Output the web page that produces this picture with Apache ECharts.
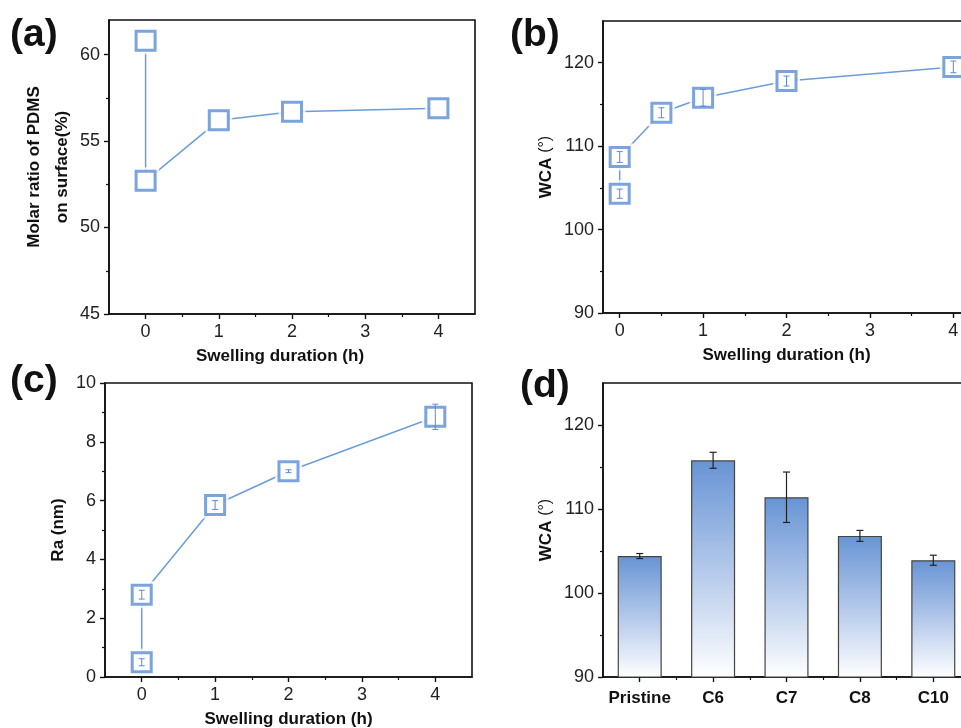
<!DOCTYPE html>
<html>
<head>
<meta charset="utf-8">
<script src="https://cdn.jsdelivr.net/npm/echarts@6/dist/echarts.min.js"></script>
<style>
  html, body { margin: 0; padding: 0; background: #fff; }
  #chart { width: 961px; height: 728px; }
</style>
</head>
<body>
<div id="chart"></div>
<script>
// (a) PDMS molar ratio on the surface vs. swelling time
const timeA = [0, 0, 1, 2, 4];
const pdmsRatio = [60.8, 52.7, 56.2, 56.7, 56.9];

// (b) water contact angle vs. swelling time
const timeB = [0, 0, 0.5, 1, 2, 4];
const wcaSwell = [104.3, 108.7, 114.0, 115.8, 117.8, 119.5];
const wcaSwellErr = [0.55, 0.65, 0.6, 1.0, 0.6, 0.7];

// (c) surface roughness vs. swelling time
const timeC = [0, 0, 1, 2, 4];
const roughness = [0.5, 2.8, 5.85, 7.0, 8.85];
const roughnessErr = [0.12, 0.15, 0.15, 0.05, 0.43];

// (d) water contact angle for each swelling solvent
const solvents = ['Pristine', 'C6', 'C7', 'C8', 'C10'];
const wcaSolvent = [104.4, 115.8, 111.4, 106.8, 103.9];
const wcaSolventErr = [0.3, 0.95, 3.0, 0.65, 0.6];

// tick positions
const hourTicks = [0, 1, 2, 3, 4];
const hourMinor = [0.5, 1.5, 2.5, 3.5];
const pdmsTicks = [45, 50, 55, 60];
const pdmsMinor = [47.5, 52.5, 57.5];
const wcaTicks = [90, 100, 110, 120];
const wcaMinor = [95, 105, 115];
const raTicks = [0, 2, 4, 6, 8, 10];
const raMinor = [1, 3, 5, 7, 9];
const solventMinor = [0.5, 1.5, 2.5, 3.5];

const FONT = '"Liberation Sans", Arial, sans-serif';
const BLUE = '#5a8cd6';
const LINE_BLUE = '#6b9cdc';
const AXIS = '#111';

function mainValueAxis(grid, pos, min, max, ticks, extra) {
  return Object.assign({
    type: 'value', gridIndex: grid, position: pos, min: min, max: max,
    axisLine: { show: true, onZero: false, lineStyle: { color: AXIS, width: 1.6 } },
    axisTick: { show: true, inside: false, length: 5, customValues: ticks,
                lineStyle: { color: AXIS, width: 1.4 } },
    axisLabel: { show: true, customValues: ticks, fontFamily: FONT, fontSize: 18,
                 color: '#222', margin: 9 },
    splitLine: { show: false }
  }, extra || {});
}

function minorAxis(grid, pos, min, max, ticks) {
  return {
    type: 'value', gridIndex: grid, position: pos, min: min, max: max,
    axisLine: { show: false, onZero: false },
    axisTick: { show: true, inside: false, length: 3, customValues: ticks,
                lineStyle: { color: AXIS, width: 1.2 } },
    axisLabel: { show: false },
    splitLine: { show: false }
  };
}

const hourName = {
  name: 'Swelling duration (h)', nameLocation: 'middle', nameGap: 34,
  nameTextStyle: { fontFamily: FONT, fontSize: 17, fontWeight: 'bold', color: '#111' }
};

function yName(name, gap, rich) {
  const o = {
    name: name, nameLocation: 'middle', nameGap: gap,
    nameTextStyle: { fontFamily: FONT, fontSize: 17, fontWeight: 'bold', color: '#111',
                     lineHeight: 28, align: 'center' }
  };
  if (rich) o.nameTextStyle.rich = rich;
  return o;
}

const wcaRich = {
  b: { fontFamily: FONT, fontSize: 17, fontWeight: 'bold', color: '#111' },
  r: { fontFamily: FONT, fontSize: 16, fontWeight: 'normal', color: '#111' }
};

const xAxes = [
  mainValueAxis(0, 'bottom', -0.5, 4.5, hourTicks, Object.assign({}, hourName,
    { nameTextStyle: Object.assign({}, hourName.nameTextStyle, { padding: [0, 24, 0, 0] }) })),
  minorAxis(0, 'bottom', -0.5, 4.5, hourMinor),
  mainValueAxis(1, 'bottom', -0.2, 4.2, hourTicks, hourName),
  minorAxis(1, 'bottom', -0.2, 4.2, hourMinor),
  mainValueAxis(2, 'bottom', -0.5, 4.5, hourTicks, hourName),
  minorAxis(2, 'bottom', -0.5, 4.5, hourMinor),
  {
    type: 'category', gridIndex: 3, position: 'bottom', data: solvents,
    axisLine: { show: true, onZero: false, lineStyle: { color: AXIS, width: 1.6 } },
    axisTick: { show: true, alignWithLabel: true, interval: 0, length: 5,
                lineStyle: { color: AXIS, width: 1.4 } },
    axisLabel: { interval: 0, fontFamily: FONT, fontSize: 17, fontWeight: 'bold',
                 color: '#111', margin: 13 },
    splitLine: { show: false }
  },
  minorAxis(3, 'bottom', -0.5, 4.5, solventMinor)
];

const yAxes = [
  mainValueAxis(0, 'left', 45, 62, pdmsTicks, yName('Molar ratio of PDMS\non surface(%)', 28)),
  minorAxis(0, 'left', 45, 62, pdmsMinor),
  mainValueAxis(1, 'left', 90, 125, wcaTicks, yName('{b|WCA} {r|(°)}', 40, wcaRich)),
  minorAxis(1, 'left', 90, 125, wcaMinor),
  mainValueAxis(2, 'left', 0, 10, raTicks, yName('Ra (nm)', 32)),
  minorAxis(2, 'left', 0, 10, raMinor),
  mainValueAxis(3, 'left', 90, 125, wcaTicks, yName('{b|WCA} {r|(°)}', 40, wcaRich)),
  minorAxis(3, 'left', 90, 125, wcaMinor)
];

function zip(xs, ys) { return xs.map((x, i) => [x, ys[i]]); }
function errData(xs, ys, es) { return xs.map((x, i) => [x, ys[i] - es[i], ys[i] + es[i]]); }

function errorBarSeries(axisIdx, data, color, capW, width, z) {
  return {
    type: 'custom', xAxisIndex: axisIdx, yAxisIndex: axisIdx, z: z, silent: true,
    data: data,
    renderItem: function (params, api) {
      const x = api.value(0);
      const lo = api.coord([x, api.value(1)]);
      const hi = api.coord([x, api.value(2)]);
      const w = capW / 2;
      const st = { stroke: color, lineWidth: width };
      return {
        type: 'group',
        children: [
          { type: 'line', shape: { x1: hi[0], y1: hi[1], x2: lo[0], y2: lo[1] }, style: st },
          { type: 'line', shape: { x1: hi[0] - w, y1: hi[1], x2: hi[0] + w, y2: hi[1] }, style: st },
          { type: 'line', shape: { x1: lo[0] - w, y1: lo[1], x2: lo[0] + w, y2: lo[1] }, style: st }
        ]
      };
    }
  };
}

function markerLineSeries(axisIdx, xs, ys, errs) {
  const pts = zip(xs, ys);
  const list = [
    { type: 'line', xAxisIndex: axisIdx, yAxisIndex: axisIdx, data: pts, z: 1,
      symbol: 'none', showSymbol: false, silent: true,
      lineStyle: { color: LINE_BLUE, width: 1.5 } },
    { type: 'scatter', xAxisIndex: axisIdx, yAxisIndex: axisIdx, data: pts, z: 2,
      symbol: 'rect', symbolSize: 27, silent: true,
      itemStyle: { color: '#fff' } },
    { type: 'scatter', xAxisIndex: axisIdx, yAxisIndex: axisIdx, data: pts, z: 3,
      symbol: 'rect', symbolSize: 19, silent: true,
      itemStyle: { color: '#fff', borderColor: BLUE, borderWidth: 3 } }
  ];
  if (errs) list.push(errorBarSeries(axisIdx, errData(xs, ys, errs), BLUE, 6, 1, 4));
  return list;
}

const series = [].concat(
  markerLineSeries(0, timeA, pdmsRatio, null),
  markerLineSeries(2, timeB, wcaSwell, wcaSwellErr),
  markerLineSeries(4, timeC, roughness, roughnessErr),
  [
    {
      type: 'bar', xAxisIndex: 6, yAxisIndex: 6, data: wcaSolvent, barWidth: '60%', z: 2,
      silent: true,
      itemStyle: {
        color: new echarts.graphic.LinearGradient(0, 0, 0, 1, [
          { offset: 0, color: '#6794d4' },
          { offset: 0.5, color: '#b3c8ea' },
          { offset: 1, color: '#ffffff' }
        ]),
        borderColor: '#444', borderWidth: 1.2
      }
    },
    errorBarSeries(6, errData(solvents.map((s, i) => i), wcaSolvent, wcaSolventErr), '#222', 7, 1.2, 4)
  ]
);

function panelLabel(text, x, y) {
  return { type: 'text', left: x, top: y, z: 10,
           style: { text: text, font: 'bold 39px ' + FONT, fill: '#111' } };
}

function gridBox(left, top, width, height) {
  return { left: left, top: top, width: width, height: height, outerBoundsMode: 'none',
           containLabel: false, show: true, borderColor: AXIS, borderWidth: 1.6 };
}

const option = {
  animation: false,
  backgroundColor: '#fff',
  grid: [
    gridBox(109, 20, 366, 294),
    gridBox(603, 21, 367, 292),
    gridBox(105, 383, 367, 294),
    gridBox(603, 383, 367, 294)
  ],
  xAxis: xAxes,
  yAxis: yAxes,
  series: series,
  graphic: [
    panelLabel('(a)', 10, 16),
    panelLabel('(b)', 510, 16),
    panelLabel('(c)', 10, 362),
    panelLabel('(d)', 520, 367)
  ]
};

const chart = echarts.init(document.getElementById('chart'), null, { renderer: 'canvas' });
chart.setOption(option);
</script>
</body>
</html>
